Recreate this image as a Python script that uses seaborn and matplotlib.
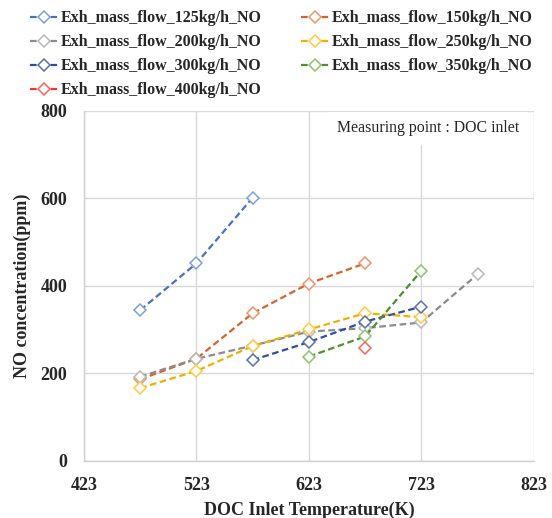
import matplotlib
matplotlib.use("Agg")
import matplotlib.pyplot as plt
import seaborn as sns
import pandas as pd

# ---- data ----
series_names = ["Exh_mass_flow_125kg/h_NO", "Exh_mass_flow_150kg/h_NO",
                "Exh_mass_flow_200kg/h_NO", "Exh_mass_flow_250kg/h_NO",
                "Exh_mass_flow_300kg/h_NO", "Exh_mass_flow_350kg/h_NO",
                "Exh_mass_flow_400kg/h_NO"]
t125 = [473, 523, 573]
no125 = [344, 451, 601]
t150 = [473, 523, 573, 623, 673]
no150 = [186, 233, 337, 405, 451]
t200 = [473, 523, 573, 623, 673, 723, 773]
no200 = [192, 233, 263, 295, 303, 316, 426]
t250 = [473, 523, 573, 623, 673, 723]
no250 = [166, 205, 262, 300, 337, 328]
t300 = [573, 623, 673, 723]
no300 = [230, 271, 318, 352]
t350 = [623, 673, 723]
no350 = [238, 284, 434]
t400 = [673]
no400 = [257]
x_ticks = [423, 523, 623, 723, 823]
y_ticks = [0, 200, 400, 600, 800]

temps = [t125, t150, t200, t250, t300, t350, t400]
vals = [no125, no150, no200, no250, no300, no350, no400]
line_colors = ["#4472C4", "#D9622B", "#8C8C8C", "#F0B000", "#2F4F9E", "#4E8F2E", "#FF3030"]
edge_colors = ["#7D9FDB", "#F0956A", "#B8B8B8", "#FFCB40", "#5B6FA8", "#8CC46A", "#FF6060"]

sns.set_theme(style="white")
plt.rcParams['font.family'] = ['Liberation Serif', 'DejaVu Serif']

fig = plt.figure(figsize=(5.52, 5.18), dpi=100)
ax = fig.add_axes([0.152, 0.1106, 0.815, 0.6757])

handles = {}
for name, tx, vy, lc, ec in zip(series_names, temps, vals, line_colors, edge_colors):
    df = pd.DataFrame({"T": tx, "NO": vy})
    sns.lineplot(data=df, x="T", y="NO", ax=ax, color=lc, linestyle=(0, (3, 1.6)),
                 linewidth=1.6, marker="D", markersize=6.5, markerfacecolor="white",
                 markeredgecolor=ec, markeredgewidth=1.1, label=name, legend=False)
    handles[name] = ax.lines[-1]

ax.set_xlim(423, 823)
ax.set_ylim(0, 800)
ax.set_xticks(x_ticks)
ax.set_yticks(y_ticks)
ax.set_xticklabels([str(v) for v in x_ticks], fontsize=13, fontweight="bold")
ax.set_yticklabels([str(v) for v in y_ticks], fontsize=13, fontweight="bold")
ax.tick_params(axis="x", length=0, pad=12)
ax.tick_params(axis="y", length=0, pad=12)
ax.grid(True, color="#D9D9D9", linewidth=1.0)
ax.set_axisbelow(True)
for s in ["top", "right"]:
    ax.spines[s].set_visible(False)
for s in ["left", "bottom"]:
    ax.spines[s].set_color("#D0D0D0")
    ax.spines[s].set_linewidth(1.0)

ax.set_xlabel("DOC Inlet Temperature(K)", fontsize=13, fontweight="bold", labelpad=5)
ax.set_ylabel("NO concentration(ppm)", fontsize=13, fontweight="bold", labelpad=7)

ax.text(0.765, 0.95, "Measuring point : DOC inlet", transform=ax.transAxes,
        ha="center", va="center", fontsize=11.4,
        bbox=dict(facecolor="white", edgecolor="none", pad=6), zorder=5)

order = [0, 2, 4, 6, 1, 3, 5]
fig.legend([handles[series_names[i]] for i in order],
           [series_names[i] for i in order],
           loc="upper left", bbox_to_anchor=(0.054, 0.98), ncol=2, frameon=False,
           prop={"family": "Liberation Serif", "weight": "bold", "size": 11.5},
           handlelength=1.8, handletextpad=0.15, columnspacing=2.45, labelspacing=0.5,
           borderpad=0.0, borderaxespad=0.0)

fig.savefig("out.png", dpi=100)
